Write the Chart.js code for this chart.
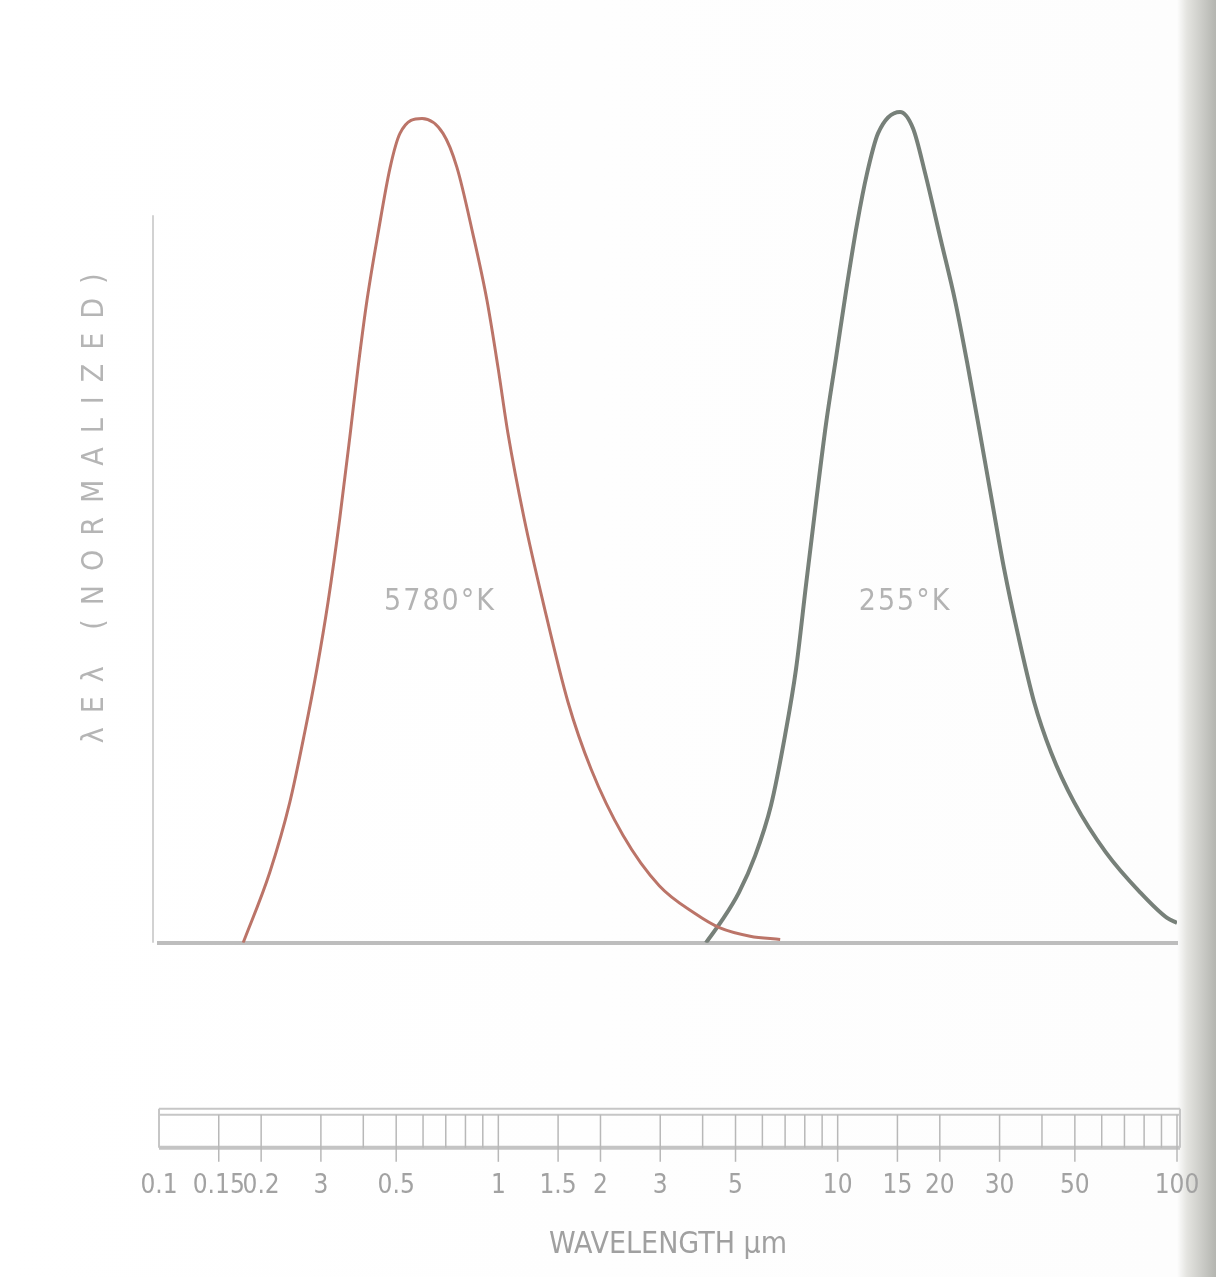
<!DOCTYPE html>
<html lang="en">

<head>
    <meta charset="UTF-8">
    <title>Blackbody curves 5780K / 255K</title>
    <script src="https://cdn.jsdelivr.net/npm/chart.js"></script>
    <style>
        body {
            margin: 0;
            overflow: hidden;
            /* scanned page: dark shadow on the right edge */
            background: linear-gradient(to right, #ffffff 0, #fdfdfd 96.8%, #e4e4e0 97.6%, #b4b5b0 100%);
        }

        .chart-container {
            width: 1216px;
            height: 1277px;
        }
    </style>
</head>

<body>
    <div class="chart-container">
        <canvas id="planckChart"></canvas>
    </div>

    <script>
        // 5780 K curve (sun)
        const sunWavelength = [0.177, 0.212, 0.243, 0.269, 0.292, 0.315, 0.341, 0.366, 0.386, 0.410, 0.442, 0.480, 0.513, 0.596, 0.687, 0.755, 0.841, 0.926, 0.998, 1.068, 1.191, 1.354, 1.604, 1.876, 2.33, 2.98, 3.78, 4.50, 5.52, 6.77];
        const sunValue = [0, 0.085, 0.170, 0.255, 0.331, 0.412, 0.513, 0.615, 0.695, 0.776, 0.857, 0.937, 0.978, 0.996, 0.978, 0.937, 0.857, 0.776, 0.695, 0.615, 0.513, 0.412, 0.291, 0.210, 0.130, 0.069, 0.036, 0.018, 0.008, 0.004];

        // 255 K curve (earth)
        const earthWavelength = [4.09, 4.56, 5.12, 5.71, 6.36, 7.00, 7.54, 8.07, 8.64, 9.24, 9.89, 10.59, 11.41, 12.21, 13.15, 15.27, 16.68, 18.10, 20.17, 22.18, 24.23, 26.28, 28.51, 30.93, 34.01, 37.92, 42.56, 49.74, 61.80, 77.85, 93.5, 100];
        const earthValue = [0, 0.027, 0.061, 0.105, 0.166, 0.251, 0.331, 0.433, 0.533, 0.627, 0.707, 0.788, 0.869, 0.930, 0.978, 1.004, 0.984, 0.930, 0.848, 0.776, 0.695, 0.615, 0.533, 0.452, 0.372, 0.291, 0.230, 0.170, 0.109, 0.061, 0.030, 0.024];

        // wavelength scale
        const tickValues = [0.1, 0.15, 0.2, 0.3, 0.5, 1, 1.5, 2, 3, 5, 10, 15, 20, 30, 50, 100];
        const tickLabels = ['0.1', '0.15', '0.2', '3', '0.5', '1', '1.5', '2', '3', '5', '10', '15', '20', '30', '50', '100'];
        const rulerTicks = [0.15, 0.2, 0.3, 0.4, 0.5, 0.6, 0.7, 0.8, 0.9, 1, 1.5, 2, 3, 4, 5, 6, 7, 8, 9, 10, 15, 20, 30, 40, 50, 60, 70, 80, 90, 100];

        // curve names
        const curveNames = ['5780°K', '255°K'];
        const curveNameX = [0.673, 15.8];
        const curveNameY = [0.412, 0.412];

        const FONT = '"DejaVu Sans Condensed", "Liberation Sans Narrow", sans-serif';

        // ruler strip under the plot, left rule, curve names
        const rulerPlugin = {
            id: 'ruler',
            beforeDraw(chart) {
                chart.ctx.letterSpacing = '0px';
            },
            afterDatasetsDraw(chart) {
                // y title is drawn after the datasets (grid.z = 1), spaced out
                chart.ctx.letterSpacing = '14px';
            },
            afterDraw(chart) {
                const { ctx, chartArea, scales } = chart;
                const x = scales.x, y = scales.y;
                ctx.save();
                ctx.letterSpacing = '0px';

                // faint left rule
                ctx.strokeStyle = '#d2d2d2';
                ctx.lineWidth = 2;
                ctx.beginPath();
                ctx.moveTo(chartArea.left - 6, y.getPixelForValue(0.879));
                ctx.lineTo(chartArea.left - 6, y.getPixelForValue(0));
                ctx.stroke();

                // ruler box
                const top = chartArea.bottom + 172;
                const bot = chartArea.bottom + 205;
                const x0 = x.getPixelForValue(0.1);
                const x1 = x.getPixelForValue(100) + 3;
                ctx.strokeStyle = '#c6c6c6';
                ctx.lineWidth = 2;
                ctx.beginPath();
                ctx.moveTo(x0, top - 6);
                ctx.lineTo(x1, top - 6);
                ctx.moveTo(x0, top);
                ctx.lineTo(x1, top);
                ctx.moveTo(x0, top - 6);
                ctx.lineTo(x0, bot);
                ctx.moveTo(x1, top - 6);
                ctx.lineTo(x1, bot);
                ctx.stroke();
                ctx.strokeStyle = '#c4c4c4';
                ctx.lineWidth = 4;
                ctx.beginPath();
                ctx.moveTo(x0, bot);
                ctx.lineTo(x1, bot);
                ctx.stroke();

                // ruler ticks
                ctx.strokeStyle = '#b8b8b8';
                ctx.lineWidth = 1.5;
                rulerTicks.forEach(v => {
                    const px = x.getPixelForValue(v);
                    const labelled = tickValues.includes(v);
                    ctx.beginPath();
                    ctx.moveTo(px, top);
                    ctx.lineTo(px, labelled ? bot + 14 : bot);
                    ctx.stroke();
                });

                // curve names
                ctx.letterSpacing = '2px';
                ctx.font = '30px ' + FONT;
                ctx.fillStyle = '#b3b3b3';
                ctx.textAlign = 'center';
                ctx.textBaseline = 'middle';
                curveNames.forEach((t, i) => {
                    ctx.fillText(t, x.getPixelForValue(curveNameX[i]), y.getPixelForValue(curveNameY[i]));
                });
                ctx.restore();
            }
        };

        const ctx = document.getElementById('planckChart').getContext('2d');
        const planckChart = new Chart(ctx, {
            type: 'line',
            data: {
                datasets: [{
                    label: '5780°K',
                    data: sunWavelength.map((w, i) => ({ x: w, y: sunValue[i] })),
                    borderColor: '#bb7468',
                    borderWidth: 3,
                    pointRadius: 0,
                    cubicInterpolationMode: 'monotone'
                }, {
                    label: '255°K',
                    data: earthWavelength.map((w, i) => ({ x: w, y: earthValue[i] })),
                    borderColor: '#778079',
                    borderWidth: 4,
                    pointRadius: 0,
                    cubicInterpolationMode: 'monotone'
                }]
            },
            options: {
                responsive: true,
                maintainAspectRatio: false,
                animation: false,
                layout: {
                    padding: { top: 60, left: 77, right: 39, bottom: 14 }
                },
                plugins: {
                    legend: { display: false },
                    tooltip: { enabled: false }
                },
                scales: {
                    x: {
                        type: 'logarithmic',
                        min: 0.1,
                        max: 100,
                        afterBuildTicks: (scale) => {
                            scale.ticks = tickValues.map(v => ({ value: v }));
                        },
                        // hidden tick marks: their length pushes the labels down to the ruler
                        grid: { display: false, drawTicks: true, tickLength: 228 },
                        border: { display: true, color: '#bdbdbd', width: 4 },
                        ticks: {
                            autoSkip: false,
                            maxRotation: 0,
                            minRotation: 0,
                            padding: 0,
                            color: '#a2a2a2',
                            font: { family: FONT, size: 26 },
                            callback: (value) => tickLabels[tickValues.indexOf(value)]
                        },
                        title: {
                            display: true,
                            text: 'WAVELENGTH µm',
                            color: '#a0a0a0',
                            font: { family: FONT, size: 30 },
                            padding: { top: 25, bottom: 0 }
                        }
                    },
                    y: {
                        min: 0,
                        max: 1.0667,
                        grid: { display: false, drawTicks: false, z: 1 },
                        border: { display: false },
                        ticks: { display: false },
                        title: {
                            display: true,
                            text: 'λEλ (NORMALIZED)',
                            color: '#b5b5b5',
                            font: { family: FONT, size: 30 },
                            padding: { top: 0, bottom: 46 }
                        }
                    }
                }
            },
            plugins: [rulerPlugin]
        });
    </script>

</body>

</html>
